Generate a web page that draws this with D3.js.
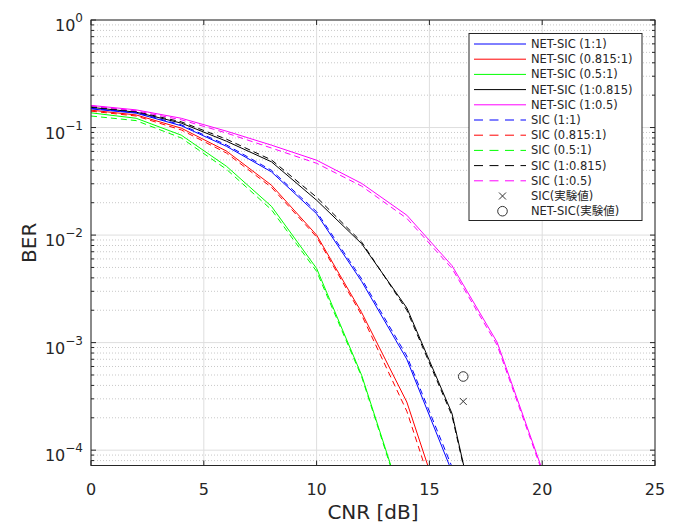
<!DOCTYPE html>
<html>
<head>
<meta charset="utf-8">
<script src="https://cdn.jsdelivr.net/npm/d3@7"></script>
<style>
  body { margin: 0; background: #fff; }
  svg text { font-family: "DejaVu Sans", "Noto Sans CJK JP", sans-serif; fill: #262626; }
</style>
</head>
<body>
<script>
// CNR points [dB]
var cnr = [0, 2, 4, 6, 8, 10, 12, 14, 16, 18, 20];

// NET-SIC (solid)
var netSic_1_1     = [0.149, 0.136, 0.104, 0.067, 0.0387, 0.0158, 3.7e-3, 7.0e-4, 6.3e-5];
var netSic_0815_1  = [0.145, 0.131, 0.0987, 0.0605, 0.0291, 0.0100, 1.9e-3, 2.8e-4, 1.5e-5];
var netSic_05_1    = [0.137, 0.122, 0.085, 0.0437, 0.0185, 0.0049, 4.95e-4, 2.5e-5];
var netSic_1_0815  = [0.154, 0.139, 0.110, 0.0747, 0.048, 0.0211, 8.3e-3, 2.1e-3, 2.2e-4, 3e-6];
var netSic_1_05    = [0.1606, 0.146, 0.122, 0.0926, 0.0686, 0.0497, 0.0302, 0.0153, 5.2e-3, 1.01e-3, 6.6e-5];

// SIC (dashed)
var sic_1_1        = [0.151, 0.138, 0.106, 0.069, 0.040, 0.0165, 3.9e-3, 7.5e-4, 7e-5];
var sic_0815_1     = [0.142, 0.128, 0.095, 0.058, 0.0278, 0.0096, 1.8e-3, 2.3e-4, 1.2e-5];
var sic_05_1       = [0.128, 0.116, 0.080, 0.041, 0.0172, 0.0046, 4.8e-4, 2.4e-5];
var sic_1_0815     = [0.156, 0.141, 0.113, 0.078, 0.050, 0.0225, 8.6e-3, 2.0e-3, 2.1e-4, 3e-6];
var sic_1_05       = [0.159, 0.143, 0.118, 0.089, 0.0645, 0.0465, 0.0285, 0.0143, 4.9e-3, 9.5e-4, 6.3e-5];

// measured points
var expCnr = 16.5;
var expSic = 2.84e-4;
var expNetSic = 4.84e-4;

var xTicks = [0, 5, 10, 15, 20, 25];
var yDecades = [1e-4, 1e-3, 1e-2, 1e-1, 1];
var yExp = ["-4", "-3", "-2", "-1", "0"];

var series = [
  {name: "NET-SIC (1:1)",     vals: netSic_1_1,    color: "#0000ff", dash: null},
  {name: "NET-SIC (0.815:1)", vals: netSic_0815_1, color: "#ff0000", dash: null},
  {name: "NET-SIC (0.5:1)",   vals: netSic_05_1,   color: "#00ff00", dash: null},
  {name: "NET-SIC (1:0.815)", vals: netSic_1_0815, color: "#000000", dash: null},
  {name: "NET-SIC (1:0.5)",   vals: netSic_1_05,   color: "#ff00ff", dash: null},
  {name: "SIC (1:1)",         vals: sic_1_1,       color: "#0000ff", dash: "6,4"},
  {name: "SIC (0.815:1)",     vals: sic_0815_1,    color: "#ff0000", dash: "6,4"},
  {name: "SIC (0.5:1)",       vals: sic_05_1,      color: "#00ff00", dash: "6,4"},
  {name: "SIC (1:0.815)",     vals: sic_1_0815,    color: "#000000", dash: "6,4"},
  {name: "SIC (1:0.5)",       vals: sic_1_05,      color: "#ff00ff", dash: "6,4"}
];

var W = 682, H = 524;
var L = 91, R = 655, T = 20, B = 465.5;

var svg = d3.select("body").append("svg")
  .attr("width", W).attr("height", H);

var x = d3.scaleLinear().domain([0, 25]).range([L, R]);
var y = d3.scaleLog().domain([7.2e-5, 1]).range([B, T]);

// minor y values
var yMinor = [];
[-5, -4, -3, -2, -1].forEach(function(e) {
  for (var k = 2; k <= 9; k++) {
    var v = k * Math.pow(10, e);
    if (v >= 7.2e-5 && v < 1) yMinor.push(v);
  }
});

// grid
var grid = svg.append("g");
grid.selectAll(".ymin").data(yMinor).enter().append("line")
  .attr("x1", L).attr("x2", R)
  .attr("y1", function(d) { return y(d); }).attr("y2", function(d) { return y(d); })
  .attr("stroke", "#c8c8c8").attr("stroke-width", 1)
  .attr("stroke-dasharray", "1,2");
grid.selectAll(".ymaj").data(yDecades).enter().append("line")
  .attr("x1", L).attr("x2", R)
  .attr("y1", function(d) { return y(d); }).attr("y2", function(d) { return y(d); })
  .attr("stroke", "#dedede").attr("stroke-width", 1);
grid.selectAll(".xmaj").data(xTicks).enter().append("line")
  .attr("y1", T).attr("y2", B)
  .attr("x1", function(d) { return x(d); }).attr("x2", function(d) { return x(d); })
  .attr("stroke", "#dedede").attr("stroke-width", 1);

// curves
svg.append("clipPath").attr("id", "clip").append("rect")
  .attr("x", L).attr("y", T).attr("width", R - L).attr("height", B - T);

var line = d3.line()
  .x(function(d, i) { return x(cnr[i]); })
  .y(function(d) { return y(d); });

var plot = svg.append("g").attr("clip-path", "url(#clip)");
plot.selectAll("path").data(series).enter().append("path")
  .attr("d", function(d) { return line(d.vals); })
  .attr("fill", "none")
  .attr("stroke", function(d) { return d.color; })
  .attr("stroke-width", 1)
  .attr("stroke-dasharray", function(d) { return d.dash; });

// measured markers
function cross(g, cx, cy, s) {
  g.append("path")
    .attr("d", "M" + (cx - s) + "," + (cy - s) + "L" + (cx + s) + "," + (cy + s) +
               "M" + (cx - s) + "," + (cy + s) + "L" + (cx + s) + "," + (cy - s))
    .attr("stroke", "#333").attr("stroke-width", 1).attr("fill", "none");
}
cross(plot, x(expCnr), y(expSic), 3.5);
plot.append("circle")
  .attr("cx", x(expCnr)).attr("cy", y(expNetSic)).attr("r", 4.8)
  .attr("fill", "none").attr("stroke", "#333").attr("stroke-width", 1);

// axes box and ticks
var axisColor = "#262626";
var ax = svg.append("g");
var yAll = yDecades.concat(yMinor);

ax.selectAll(".xtb").data(xTicks).enter().append("line")
  .attr("x1", function(d) { return x(d); }).attr("x2", function(d) { return x(d); })
  .attr("y1", B).attr("y2", B - 5).attr("stroke", axisColor);
ax.selectAll(".xtt").data(xTicks).enter().append("line")
  .attr("x1", function(d) { return x(d); }).attr("x2", function(d) { return x(d); })
  .attr("y1", T).attr("y2", T + 5).attr("stroke", axisColor);
ax.selectAll(".ytl").data(yAll).enter().append("line")
  .attr("y1", function(d) { return y(d); }).attr("y2", function(d) { return y(d); })
  .attr("x1", L).attr("x2", function(d) { return L + (yDecades.indexOf(d) >= 0 ? 5 : 3); })
  .attr("stroke", axisColor);
ax.selectAll(".ytr").data(yAll).enter().append("line")
  .attr("y1", function(d) { return y(d); }).attr("y2", function(d) { return y(d); })
  .attr("x1", R).attr("x2", function(d) { return R - (yDecades.indexOf(d) >= 0 ? 5 : 3); })
  .attr("stroke", axisColor);

ax.append("rect")
  .attr("x", L).attr("y", T).attr("width", R - L).attr("height", B - T)
  .attr("fill", "none").attr("stroke", axisColor).attr("stroke-width", 1);

// tick labels
svg.selectAll(".xl").data(xTicks).enter().append("text")
  .attr("x", function(d) { return x(d); })
  .attr("y", B + 29)
  .attr("text-anchor", "middle")
  .attr("font-size", 16)
  .text(function(d) { return d; });

var yl = svg.selectAll(".yl").data(yDecades).enter().append("text")
  .attr("x", 83)
  .attr("y", function(d) { return y(d) + 11; })
  .attr("text-anchor", "end")
  .attr("font-size", 16);
yl.append("tspan").text("10");
yl.append("tspan")
  .attr("dy", -9)
  .attr("font-size", 12)
  .text(function(d, i) { return yExp[i].replace("-", "\u2212"); });

// axis titles
svg.append("text")
  .attr("x", (L + R) / 2).attr("y", 519)
  .attr("text-anchor", "middle")
  .attr("font-size", 20)
  .text("CNR [dB]");
svg.append("text")
  .attr("transform", "translate(36," + ((T + B) / 2) + ") rotate(-90)")
  .attr("text-anchor", "middle")
  .attr("font-size", 20)
  .text("BER");

// legend
var lg = svg.append("g");
lg.append("rect")
  .attr("x", 469).attr("y", 33.5).attr("width", 173).attr("height", 187)
  .attr("fill", "#fff").attr("stroke", axisColor).attr("stroke-width", 1);

var rowY = function(i) { return 44 + i * 15.2; };
series.forEach(function(s, i) {
  lg.append("line")
    .attr("x1", 474).attr("x2", 526)
    .attr("y1", rowY(i)).attr("y2", rowY(i))
    .attr("stroke", s.color).attr("stroke-width", 1)
    .attr("stroke-dasharray", s.dash ? "9,6.5" : null);
  lg.append("text")
    .attr("x", 531).attr("y", rowY(i) + 4)
    .attr("font-size", 11.5)
    .text(s.name);
});
cross(lg, 502.5, rowY(10), 3.5);
lg.append("text").attr("x", 531).attr("y", rowY(10) + 4).attr("font-size", 11.5).text("SIC(実験値)");
lg.append("circle").attr("cx", 502.5).attr("cy", rowY(11)).attr("r", 4.8)
  .attr("fill", "none").attr("stroke", "#333").attr("stroke-width", 1);
lg.append("text").attr("x", 531).attr("y", rowY(11) + 4).attr("font-size", 11.5).text("NET-SIC(実験値)");
</script>
</body>
</html>
